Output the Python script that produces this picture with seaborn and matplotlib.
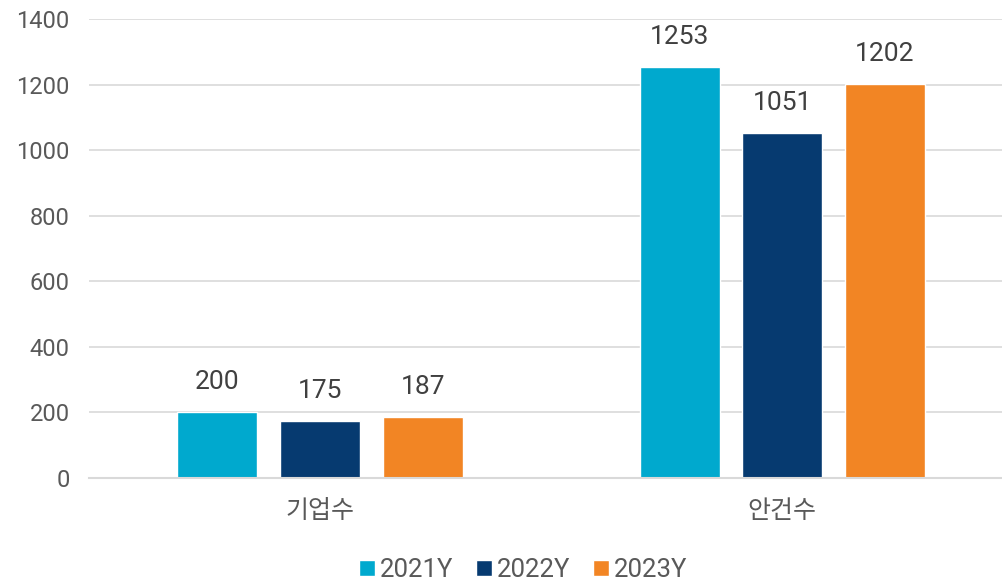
import pandas as pd
import matplotlib.pyplot as plt
import seaborn as sns

categories = ['기업수', '안건수']
years = ['2021Y', '2022Y', '2023Y']
values_2021 = [200, 1253]
values_2022 = [175, 1051]
values_2023 = [187, 1202]
colors = ['#00A9CE', '#063A70', '#F28524']

rows = []
for year, vals in zip(years, [values_2021, values_2022, values_2023]):
    for cat, v in zip(categories, vals):
        rows.append({'category': cat, 'year': year, 'value': v})
df = pd.DataFrame(rows)

sns.set_theme(style='white')
plt.rcParams['font.family'] = ['Roboto', 'Noto Sans CJK KR', 'DejaVu Sans']

fig = plt.figure(figsize=(10.03, 5.84), dpi=100)
ax = fig.add_axes([0.0887, 0.1815, 0.9113, 0.786])

sns.barplot(data=df, x='category', y='value', hue='year', palette=colors,
            width=0.666, gap=0.22, ax=ax, saturation=1)

for c in ax.containers:
    ax.bar_label(c, padding=13, fontsize=19, color='#404040')

ax.set_ylim(0, 1400)
ax.set_yticks(range(0, 1401, 200))
ax.set_xlim(-0.5, 1.478)
ax.yaxis.grid(True, color='#D9D9D9', linewidth=1.2)
ax.set_axisbelow(True)
for s in ['left', 'right', 'top']:
    ax.spines[s].set_visible(False)
ax.spines['bottom'].set_color('#D9D9D9')
ax.spines['bottom'].set_linewidth(1.5)
ax.tick_params(axis='y', length=0, pad=14, labelsize=17, labelcolor='#595959')
ax.tick_params(axis='x', length=0, pad=15, labelsize=18, labelcolor='#595959')
ax.set_xlabel('')
ax.set_ylabel('')

ax.legend(loc='center', bbox_to_anchor=(0.475, -0.2), ncol=3, frameon=False,
          fontsize=18.5, handlelength=0.6, handleheight=0.6, handletextpad=0.2,
          columnspacing=0.9, labelcolor='#595959')

fig.savefig('out.png', dpi=100)
